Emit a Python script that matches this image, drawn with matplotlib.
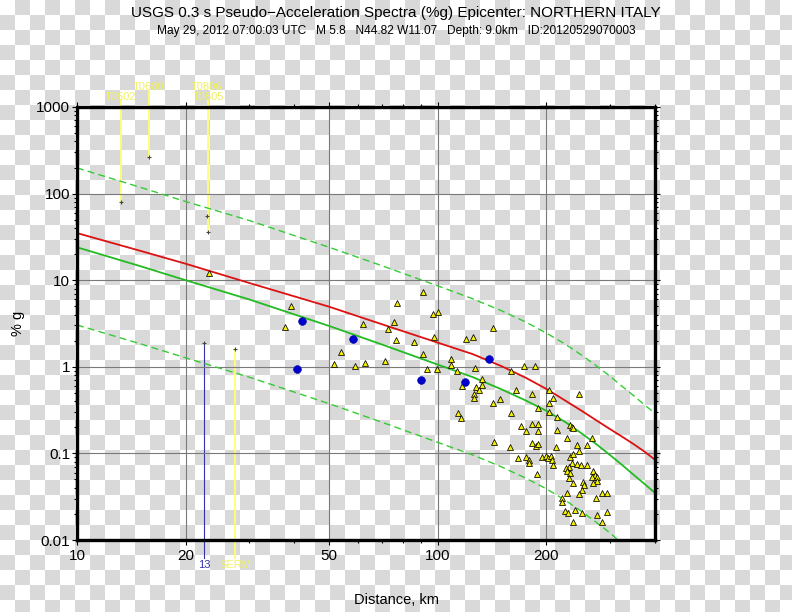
import numpy as np
import matplotlib
matplotlib.use('Agg')
import matplotlib.pyplot as plt
from matplotlib.colors import ListedColormap
from matplotlib.ticker import FixedLocator, LogLocator, NullFormatter

plt.rcParams['font.family'] = ['Liberation Sans', 'DejaVu Sans']

# predicted spectral acceleration curves (%g) vs distance (km)
curve_dist = [10, 15, 20, 30, 50, 70, 100, 125, 150, 175, 200, 225, 250, 275,
              300, 325, 350, 375, 400]
median_gmpe = [24, 14.5, 10, 6.0, 2.96, 1.81, 1.06, 0.76, 0.55, 0.41, 0.31, 0.232,
               0.171, 0.128, 0.096, 0.073, 0.056, 0.044, 0.035]
upper_gmpe = [198, 118, 81, 49, 24, 14.7, 8.6, 6.1, 4.45, 3.3, 2.45, 1.84,
              1.37, 1.03, 0.78, 0.59, 0.46, 0.36, 0.29]
lower_gmpe = [3.04, 1.84, 1.27, 0.76, 0.375, 0.229, 0.134, 0.096, 0.07, 0.052, 0.039, 0.029,
              0.0215, 0.016, 0.0121, 0.009, 0.007, 0.0055, 0.0043]
bias_curve = [35, 21.8, 15.5, 9.3, 4.94, 3.1, 1.9, 1.40, 1.02, 0.75, 0.555, 0.41,
              0.312, 0.241, 0.191, 0.155, 0.127, 0.104, 0.0845]

# seismic stations (triangles)
tri_dist = [23.2, 39.2, 37.7, 53.9, 51.5, 58.9, 62.8, 62.0, 72.7, 75.5,
            77.0, 76.5, 71.3, 85.8, 90.9, 96.8, 100, 97.5, 90.9, 93.2,
            99.4, 109, 109, 113, 120, 125, 127, 133, 133, 128,
            130, 117, 126, 126, 142, 142, 149, 160, 165, 173,
            186, 182, 189, 160, 114, 116, 170, 183, 190, 203,
            247, 208, 203, 204, 214, 176, 190, 214, 232, 235,
            237, 228, 267, 259, 243, 247, 183, 187, 190, 159,
            143, 212, 167, 176, 179, 179, 194, 199, 202, 206,
            207, 208, 188, 232, 237, 235, 231, 226, 228, 232,
            231, 237, 243, 249, 259, 269, 272, 267, 276, 276,
            269, 252, 254, 251, 247, 286, 294, 274, 228, 221,
            221, 225, 229, 240, 251, 277, 294, 237, 286]
tri_val = [12.1, 5.04, 2.88, 1.48, 1.08, 1.02, 1.11, 3.12, 2.73, 3.29,
           5.45, 2.04, 1.17, 1.93, 7.31, 4.07, 4.29, 2.21, 1.41, 0.943,
           0.943, 1.23, 1.05, 0.894, 2.09, 2.21, 0.969, 0.723, 0.616, 0.584,
           0.540, 0.600, 0.485, 0.436, 2.81, 0.382, 0.425, 0.894, 0.540, 1.02,
           1.02, 0.485, 0.334, 0.293, 0.293, 0.256, 0.207, 0.219, 0.219, 0.540,
           0.485, 0.436, 0.382, 0.301, 0.263, 0.181, 0.181, 0.186, 0.213, 0.202,
           0.196, 0.151, 0.151, 0.125, 0.125, 0.107, 0.132, 0.122, 0.128, 0.119,
           0.135, 0.119, 0.0885, 0.0909, 0.0839, 0.0775, 0.0909, 0.0933, 0.0885, 0.0933,
           0.0839, 0.0735, 0.0578, 0.0909, 0.0984, 0.0775, 0.0697, 0.0678, 0.0626, 0.0594,
           0.0520, 0.0455, 0.0754, 0.0735, 0.0735, 0.0626, 0.0563, 0.0534, 0.0534, 0.0480,
           0.0455, 0.0467, 0.0432, 0.0378, 0.0340, 0.0349, 0.0349, 0.0305, 0.0349, 0.0305,
           0.0275, 0.0216, 0.0205, 0.0222, 0.0205, 0.0194, 0.0211, 0.0161, 0.0161]

# other network stations (blue circles)
circ_dist = [42.0, 40.6, 58.2, 89.8, 118.9, 138.4]
circ_val = [3.38, 0.94, 2.09, 0.70, 0.67, 1.23]

# labelled stations
sta_names = ['T0602', 'T0600', 'T0806', 'T0805', '13', 'SERM']
sta_dist = [13.2, 15.8, 22.9, 23.1, 22.5, 27.4]
sta_val = [80, 265, 55, 36, 1.88, 1.61]

fig = plt.figure(figsize=(7.92, 6.12), dpi=100)

# checkerboard backdrop
bg = fig.add_axes([0, 0, 1, 1], zorder=-10)
ny, nx = 612 // 15 + 1, 792 // 15 + 1
checker = (np.add.outer(np.arange(ny), np.arange(nx)) % 2)
bg.imshow(checker, cmap=ListedColormap(['white', '#d9d9d9']), interpolation='nearest',
          extent=[0, nx * 15, ny * 15, 0], aspect='auto')
bg.set_xlim(0, 792)
bg.set_ylim(612, 0)
bg.axis('off')

ax = fig.add_axes([77 / 792, 1 - 540 / 612, 578 / 792, 433 / 612])
ax.set_facecolor('none')
ax.set_xscale('log')
ax.set_yscale('log')
ax.set_xlim(10, 400)
ax.set_ylim(0.01, 1000)

ax.xaxis.set_major_locator(FixedLocator([10, 20, 50, 100, 200]))
ax.xaxis.set_minor_locator(LogLocator(base=10, subs=np.arange(1, 10)))
ax.xaxis.set_minor_formatter(NullFormatter())
ax.set_xticklabels(['10', '20', '50', '100', '200'])
ax.yaxis.set_major_locator(FixedLocator([0.01, 0.1, 1, 10, 100, 1000]))
ax.yaxis.set_minor_locator(LogLocator(base=10, subs=np.arange(2, 10)))
ax.yaxis.set_minor_formatter(NullFormatter())
ax.set_yticklabels(['0.01', '0.1', '1', '10', '100', '1000'])

ax.grid(True, which='major', color='#7a7a7a', linewidth=0.8)
ax.tick_params(which='both', direction='out', top=True, right=True, labelsize=11,
               width=0.8, color='black')
ax.tick_params(which='major', length=3.5)
ax.tick_params(which='minor', length=2)
ax.tick_params(axis='y', which='major', pad=1.5)
ax.tick_params(axis='x', which='major', pad=3)
for s in ax.spines.values():
    s.set_linewidth(2.4)

ax.plot(curve_dist, upper_gmpe, color='#33cc33', lw=1.0, ls=(0, (5, 3)))
ax.plot(curve_dist, lower_gmpe, color='#33cc33', lw=1.0, ls=(0, (5, 3)))
ax.plot(curve_dist, median_gmpe, color='#22bb22', lw=1.3)
ax.plot(curve_dist, bias_curve, color='#dd1111', lw=1.3)

ax.plot(tri_dist, tri_val, ls='none', marker='^', ms=4.6, mfc='#f5f000', mec='black', mew=0.55)
ax.plot(circ_dist, circ_val, ls='none', marker='o', ms=5.5, mfc='#0000cc', mec='#0000aa', mew=0.5)

# station flags
label_y = [1300, 1700, 1700, 1300, 0.0051, 0.0051]
line_end = [1200, 1550, 1200, 1200, 0.0062, 0.0062]
flag_col = ['#ffff70', '#ffff70', '#ffff70', '#ffff70', '#3333aa', '#ffff70']
for name, d, v, ly, le, c in zip(sta_names, sta_dist, sta_val, label_y, line_end, flag_col):
    if name != 'T0806':
        ax.plot([d, d], [v, le], color=c, lw=1.3 if c != '#3333aa' else 0.8, clip_on=False, zorder=1)
    ax.plot(d, v, marker='+', ms=3, color='#444444', mew=0.8, zorder=3)
    ax.text(d, ly, name, color=c if c != '#ffff70' else '#f0f060', fontsize=8,
            ha='center', va='center', clip_on=False)

fig.text(0.5, 1 - 13 / 612,
         'USGS 0.3 s Pseudo\u2212Acceleration Spectra (%g) Epicenter: NORTHERN ITALY',
         ha='center', va='center', fontsize=11)
fig.text(0.5, 1 - 31 / 612,
         'May 29, 2012 07:00:03 UTC   M 5.8   N44.82 W11.07   Depth: 9.0km   ID:20120529070003',
         ha='center', va='center', fontsize=8.6)
fig.text(0.5, 1 - 600 / 612, 'Distance, km', ha='center', va='center', fontsize=10.5)
fig.text(18 / 792, 1 - 323 / 612, '% g', ha='center', va='center', rotation=90, fontsize=10.5)

fig.savefig('out.png', dpi=100)
